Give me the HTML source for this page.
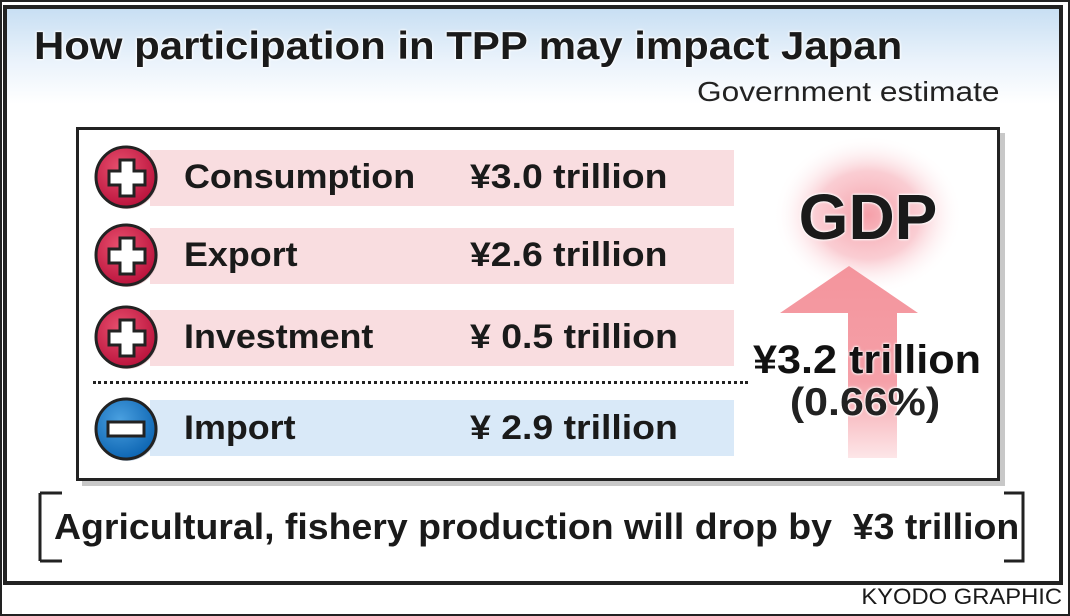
<!DOCTYPE html>
<html><head><meta charset="utf-8"><style>
*{margin:0;padding:0;box-sizing:border-box}
body{width:1070px;height:616px;background:#fff;position:relative;overflow:hidden;font-family:"Liberation Sans",Arial,sans-serif;color:#1a1a1a}
.abs{position:absolute}
.t{font-weight:bold;text-shadow:0 0 2px #fff,0 0 2px #fff,0 0 3px #fff}
.band{position:absolute;left:150px;width:584px;height:56px;background:#f9dde0}
.lbl{position:absolute;left:184px;font-size:34px;font-weight:bold;white-space:nowrap;transform:scaleX(1.055);transform-origin:left}
.val{position:absolute;left:470px;font-size:34px;font-weight:bold;white-space:nowrap;transform:scaleX(1.1);transform-origin:left}
</style></head><body>
<div class="abs" style="left:0;top:0;width:1070px;height:616px;border:2px solid #222"></div>
<div class="abs" style="left:3px;top:5px;width:1060px;height:580px;border:4px solid #222;background:linear-gradient(#c8dff3 0px,#e9f2fb 50px,#fff 95px)"></div>
<div class="abs t" style="left:34px;top:25px;font-size:39px;white-space:nowrap;transform:scaleX(1.075);transform-origin:left">How participation in TPP may impact Japan</div>
<div class="abs" style="left:697px;top:76px;font-size:28px;white-space:nowrap;color:#222;transform:scaleX(1.13);transform-origin:left">Government estimate</div>
<div class="abs" style="left:82px;top:133px;width:923px;height:353px;background:#c8c8c8"></div>
<div class="abs" style="left:76px;top:127px;width:924px;height:354px;border:3px solid #222;background:#fff"></div>
<div class="band" style="top:150px"></div>
<div class="band" style="top:228px"></div>
<div class="band" style="top:310px"></div>
<div class="band" style="top:400px;background:#d9e9f8"></div>
<div class="abs" style="left:93px;top:381px;width:655px;border-top:3px dotted #222"></div>
<svg class="abs" style="left:0;top:0" width="1070" height="616">
<defs>
<radialGradient id="r" cx="0.4" cy="0.35" r="0.7"><stop offset="0" stop-color="#e8506e"/><stop offset="1" stop-color="#b8103a"/></radialGradient>
<radialGradient id="b" cx="0.4" cy="0.35" r="0.7"><stop offset="0" stop-color="#4aa0e0"/><stop offset="1" stop-color="#0a62b0"/></radialGradient>
<radialGradient id="g"><stop offset="0" stop-color="#f59aa4" stop-opacity="0.95"/><stop offset="0.55" stop-color="#f8b8c0" stop-opacity="0.7"/><stop offset="1" stop-color="#fff" stop-opacity="0"/></radialGradient>
<linearGradient id="a" x1="0" y1="0" x2="0" y2="1"><stop offset="0" stop-color="#f4949c"/><stop offset="0.6" stop-color="#f5a0a8"/><stop offset="1" stop-color="#fde6e8"/></linearGradient>
<g id="p"><circle cx="0" cy="0" r="31" fill="#e8c8cc"/><circle cx="-1" cy="-1" r="30" fill="url(#r)" stroke="#222" stroke-width="3"/><path d="M-7,-18h14v11h11v14h-11v11h-14v-11h-11v-14h11z" fill="#fff" stroke="#222" stroke-width="3"/></g>
</defs>
<use href="#p" x="127" y="178"/><use href="#p" x="127" y="256"/><use href="#p" x="127" y="338"/>
<circle cx="127" cy="430" r="31" fill="#c8d8e8"/><circle cx="126" cy="429" r="30" fill="url(#b)" stroke="#222" stroke-width="3"/><rect x="108" y="422" width="36" height="14" fill="#fff" stroke="#222" stroke-width="3"/>
<ellipse cx="868" cy="215" rx="95" ry="80" fill="url(#g)"/>
<path d="M780,313L849,266L918,313H897V458H848V313Z" fill="url(#a)"/>
<path d="M40,493H62M40,493V561M40,561H62M1004,493H1023V561H1004" stroke="#222" stroke-width="3" fill="none"/>
</svg>
<div class="lbl" style="top:158px">Consumption</div><div class="val" style="top:158px">¥3.0 trillion</div>
<div class="lbl" style="top:236px">Export</div><div class="val" style="top:236px">¥2.6 trillion</div>
<div class="lbl" style="top:318px">Investment</div><div class="val" style="top:318px">¥ 0.5 trillion</div>
<div class="lbl" style="top:409px">Import</div><div class="val" style="top:409px">¥ 2.9 trillion</div>
<div class="abs t" style="left:768px;top:180px;width:200px;text-align:center;font-size:64px">GDP</div>
<div class="abs t" style="left:742px;top:338px;width:250px;text-align:center;font-size:40px;color:#111;transform:scaleX(1.08)">¥3.2 trillion</div>
<div class="abs t" style="left:740px;top:381px;width:250px;text-align:center;font-size:39px;color:#222;transform:scaleX(1.1)">(0.66%)</div>
<div class="abs" style="left:54px;top:506px;font-size:36px;font-weight:bold;white-space:nowrap;transform:scaleX(1.04);transform-origin:left">Agricultural, fishery production will drop by &nbsp;¥3 trillion</div>
<div class="abs" style="left:800px;top:584px;width:262px;text-align:right;font-size:22px;white-space:nowrap;transform:scaleX(1.08);transform-origin:right">KYODO GRAPHIC</div>
</body></html>
